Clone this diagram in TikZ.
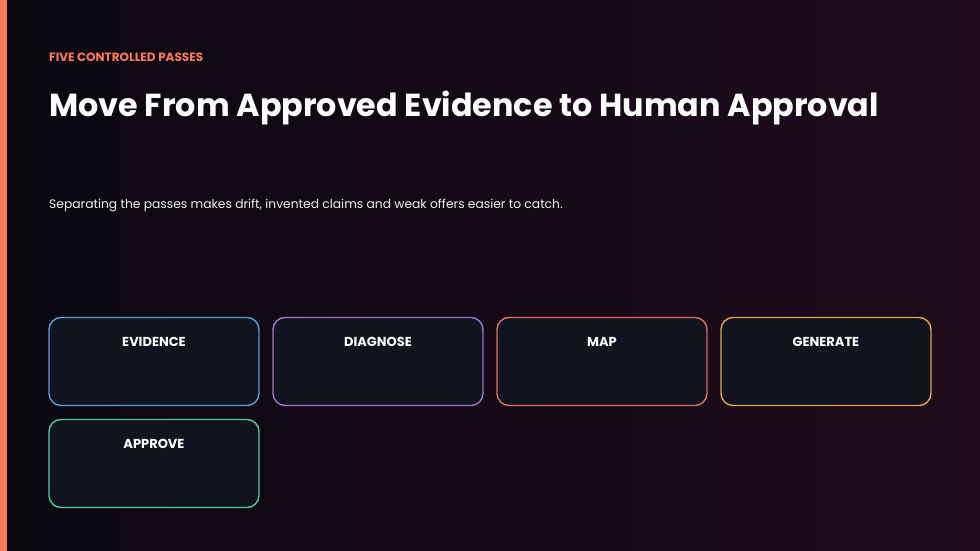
\documentclass[tikz,border=0pt]{standalone}
\usepackage{fontspec}
\setmainfont{Poppins}
\usepackage{tikz}
\usetikzlibrary{
  	positioning,
  	shadings
  }
\definecolor{bgleft}{HTML}{0A0810}
\definecolor{bgright}{HTML}{1F0B1D}
\definecolor{accent}{HTML}{FF7A55}
\definecolor{cardfill}{HTML}{10141F}
\definecolor{cevidence}{HTML}{5B9BDA}
\definecolor{cdiagnose}{HTML}{A774D4}
\definecolor{cmap}{HTML}{E4705C}
\definecolor{cgenerate}{HTML}{E5A24C}
\definecolor{capprove}{HTML}{4FC99C}
\tikzset{
  pass/.style={draw=#1, fill=cardfill, line width=1.4pt, rounded corners=12pt,
    minimum width=210pt, minimum height=88pt, inner sep=0pt, outer sep=0pt},
  passlab/.style={font=\bfseries\fontsize{13}{15}\selectfont, text=white}
}
\begin{document}
\begin{tikzpicture}[x=1pt, y=1pt]
	\useasboundingbox (0,0) rectangle (980,551);
	\shade[left color=bgleft, right color=bgright] (0,0) rectangle (980,551);
	\fill[accent] (0,0) rectangle (7,551);
%
	\node[anchor=base west, inner sep=0pt, text=accent, font=\bfseries\fontsize{12}{14}\selectfont] (eyebrow) at (49,489) {FIVE CONTROLLED PASSES};
	\node[anchor=base west, inner sep=0pt, text=white, font=\bfseries\fontsize{31.8}{38}\selectfont] (title) at (49,434) {Move From Approved Evidence to Human Approval};
	\node[anchor=base west, inner sep=0pt, text=white!90!gray, font=\fontsize{12.3}{15}\selectfont] (lede) at (49,342) {Separating the passes makes drift, invented claims and weak offers easier to catch.};
%
	\node[pass=cevidence, label={[passlab, below=16pt]north:EVIDENCE}] (Pev) at (154,189.5) {};
	\node[pass=cdiagnose, right=14 of Pev, label={[passlab, below=16pt]north:DIAGNOSE}] (Pdi) {};
	\node[pass=cmap, right=14 of Pdi, label={[passlab, below=16pt]north:MAP}] (Pma) {};
	\node[pass=cgenerate, right=14 of Pma, label={[passlab, below=16pt]north:GENERATE}] (Pge) {};
	\node[pass=capprove, below=14 of Pev, label={[passlab, below=16pt]north:APPROVE}] (Pap) {};
\end{tikzpicture}
\end{document}
